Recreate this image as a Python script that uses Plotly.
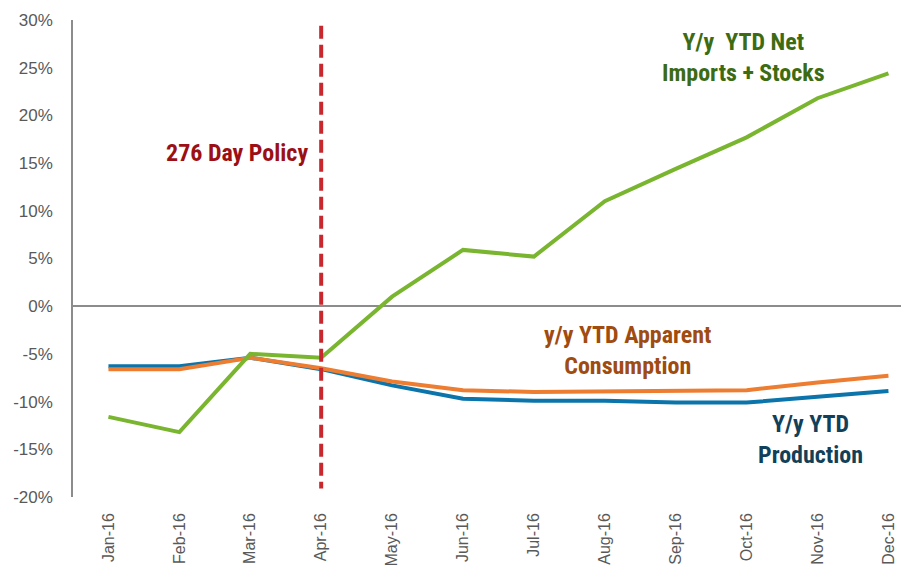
import plotly.graph_objects as go

months = ["Jan-16", "Feb-16", "Mar-16", "Apr-16", "May-16", "Jun-16",
          "Jul-16", "Aug-16", "Sep-16", "Oct-16", "Nov-16", "Dec-16"]
net_imports_stocks = [-11.6, -13.2, -5.0, -5.4, 1.0, 5.9, 5.2, 11.0, 14.4, 17.7, 21.8, 24.4]
production = [-6.3, -6.3, -5.4, -6.6, -8.3, -9.7, -9.9, -9.9, -10.1, -10.1, -9.5, -8.9]
consumption = [-6.6, -6.6, -5.4, -6.5, -7.9, -8.8, -9.0, -8.9, -8.9, -8.8, -8.0, -7.3]
policy_month = "Apr-16"
y_ticks = [-20, -15, -10, -5, 0, 5, 10, 15, 20, 25, 30]

GREEN = "#79b52f"
BLUE = "#0b74ab"
ORANGE = "#ed7d31"
NARROW = "Liberation Sans Narrow, Arial Narrow, Roboto Condensed, sans-serif"

fig = go.Figure()
fig.add_trace(go.Scatter(x=months, y=production, mode="lines",
                         line=dict(color=BLUE, width=4), name="Production"))
fig.add_trace(go.Scatter(x=months, y=consumption, mode="lines",
                         line=dict(color=ORANGE, width=4), name="Consumption"))
fig.add_trace(go.Scatter(x=months, y=net_imports_stocks, mode="lines",
                         line=dict(color=GREEN, width=4), name="Net Imports + Stocks"))

fig.add_shape(type="line", xref="x", yref="y", x0=policy_month, x1=policy_month,
              y0=29.4, y1=-19.1, line=dict(color="#c8282d", width=4, dash="13px,6px"))

def note(text, x, y, color):
    fig.add_annotation(text=text, xref="paper", yref="paper", x=x, y=y,
                       xanchor="center", yanchor="middle",
                       showarrow=False, align="center",
                       font=dict(family=NARROW, size=24, color=color))

# page body has an 8px margin, so the figure is drawn 8px in from the top-left
OFF = 8
W, H = 909 - OFF, 565 - OFF
L, R, T, B = 73 - OFF, 0, 20 - OFF, 68
pw, ph = W - L - R, H - T - B
def px(xp): return (xp - OFF - L) / pw
def py(yp): return (H - B - (yp - OFF)) / ph

note("<b>Y/y  YTD Net<br>Imports + Stocks</b>", px(743), py(57), "#3d6b12")
note("<b>276 Day Policy</b>", px(237), py(153), "#9c0f14")
note("<b>y/y YTD Apparent<br>Consumption</b>", px(627), py(350), "#a04b0f")
note("<b>Y/y YTD<br>Production</b>", px(810), py(439), "#123f5a")

fig.update_layout(
    width=W, height=H,
    margin=dict(l=L, r=R, t=T, b=B, autoexpand=False),
    plot_bgcolor="white", paper_bgcolor="white",
    showlegend=False,
    font=dict(family="Liberation Sans, Arial, sans-serif", color="#595959"),
    xaxis=dict(type="category", range=[-0.5, 11.29], showgrid=False,
               zeroline=False, showline=False, tickangle=-90, automargin=False,
               tickfont=dict(size=16, color="#595959"),
               ticks="", ticklabelstandoff=12),
    yaxis=dict(range=[-20, 30], tickvals=y_ticks, automargin=False,
               ticktext=[f"{v}%" for v in y_ticks],
               showgrid=False, zeroline=True, zerolinecolor="#8c8c8c",
               zerolinewidth=1.5, showline=True, linecolor="#8c8c8c",
               linewidth=1.5, ticks="", ticklabelstandoff=15,
               tickfont=dict(size=17, color="#595959")),
)

fig.write_html("out.html")
